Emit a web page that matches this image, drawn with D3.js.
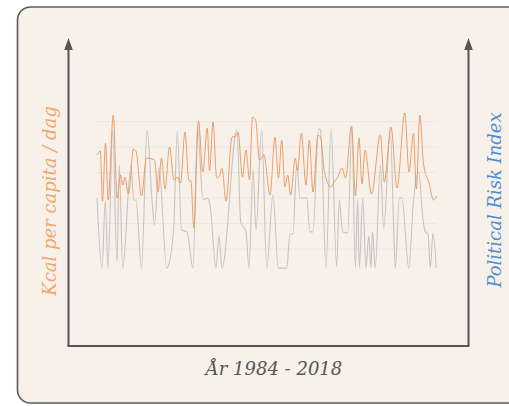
<!DOCTYPE html>
<html lang="en">

<head>
    <meta charset="UTF-8">
    <title>Kcal vs Political Risk</title>
    <style>
        body {margin: 0; background: #ffffff;}
        svg {display: block;}
    </style>
    <script src="https://d3js.org/d3.v7.min.js"></script>
</head>

<body>

    <svg id="figure1" width="509" height="406"></svg>

    <script>
    // time axis (years)
    let years_kcal = [1984.03, 1984.33, 1984.55, 1984.85, 1985.12, 1985.62, 1986.02, 1986.35, 1986.6, 1986.78,
        1987.15, 1987.65, 1987.9, 1988.45, 1988.95, 1989.75, 1990.1, 1990.45, 1990.8, 1991.25,
        1991.7, 1992.03, 1992.35, 1992.8, 1993.18, 1993.4, 1993.68, 1994.15, 1994.58, 1995.03,
        1995.25, 1995.6, 1995.97, 1996.25, 1996.5, 1996.9, 1997.5, 1997.9, 1998.1, 1998.55,
        1998.9, 1999.25, 1999.55, 1999.87, 2000.25, 2000.7, 2001.3, 2001.8, 2002.15, 2002.47,
        2002.8, 2003.07, 2003.37, 2003.83, 2004.05, 2004.43, 2004.9, 2005.23, 2005.6, 2006.1,
        2006.35, 2006.75, 2007.4, 2007.7, 2008.07, 2008.5, 2008.85, 2009.45, 2009.85, 2010.2,
        2010.5, 2010.8, 2011.45, 2012.33, 2012.73, 2013.4, 2014, 2014.78, 2015.2, 2015.65,
        2015.93, 2016.28, 2016.65, 2017.17, 2017.67, 2017.95]
    let kcal = [2853, 2876, 2582, 2923, 2588, 3088, 2600, 2735, 2676, 2723,
        2623, 2888, 2876, 2612, 2835, 2823, 2635, 2835, 2653, 2900,
        2706, 2723, 2688, 2988, 2706, 2700, 2423, 3053, 2753, 3011,
        2759, 3047, 2717, 2729, 2776, 2582, 2958, 2964, 2988, 2723,
        2882, 2706, 3076, 3058, 2823, 2853, 2617, 2958, 2717, 2941,
        2664, 2735, 2617, 2835, 2759, 2982, 2676, 2941, 2635, 2970,
        2958, 2753, 2664, 2694, 2723, 2776, 2717, 3023, 2612, 2953,
        2682, 2882, 2623, 2970, 2694, 3017, 2659, 3100, 2753, 2982,
        2653, 3088, 2800, 2694, 2588, 2612]

    let years_risk = [1984.0, 1984.5, 1984.83, 1985.1, 1985.57, 1986.0, 1986.23, 1986.57, 1987.4, 1987.67,
        1987.9, 1988.45, 1989.02, 1989.5, 1989.75, 1990.2, 1990.97, 1991.65, 1992.03, 1992.45,
        1993.0, 1993.6, 1994.05, 1994.6, 1995.0, 1995.3, 1995.9, 1996.2, 1996.5, 1998.0,
        1998.37, 1998.9, 1999.2, 1999.6, 1999.9, 2000.47, 2000.97, 2001.6, 2002.13, 2002.97,
        2003.3, 2003.6, 2003.97, 2004.3, 2004.97, 2005.3, 2005.6, 2006.15, 2006.35, 2006.9,
        2007.4, 2007.97, 2008.23, 2008.57, 2009.07, 2009.5, 2009.83, 2010.07, 2010.23, 2010.57,
        2010.9, 2011.17, 2011.4, 2011.55, 2011.83, 2012.33, 2012.67, 2013.33, 2013.67, 2013.83,
        2014.23, 2014.5, 2015.17, 2015.67, 2016.17, 2016.6, 2016.83, 2017.1, 2017.33, 2017.6,
        2017.93]
    let risk = [40.0, 12.5, 38.8, 12.5, 66.7, 14.9, 52.9, 12.5, 52.9, 39.2,
        39.2, 12.5, 66.7, 39.2, 29.4, 51.8, 12.5, 26.7, 66.3, 27.5,
        26.7, 12.5, 67.8, 39.2, 40.0, 37.3, 12.5, 25.1, 12.5, 66.7,
        30.6, 26.7, 12.5, 51.0, 27.5, 66.7, 12.5, 41.2, 12.5, 12.5,
        25.9, 25.9, 52.9, 40.0, 40.0, 26.7, 26.7, 67.1, 66.7, 12.5,
        67.1, 13.3, 39.2, 26.7, 26.3, 68.2, 12.5, 39.2, 12.5, 40.0,
        12.5, 25.1, 12.5, 26.7, 12.5, 52.9, 28.2, 66.3, 28.2, 12.5,
        40.0, 40.0, 12.5, 40.0, 50.2, 31.4, 26.7, 25.9, 12.5, 26.3,
        12.5]

    // faint grid at these risk values
    let grid_values = [20, 30, 40, 50, 60, 70]

    let xLabel = "År 1984 - 2018"
    let yLabelLeft = "Kcal per capita / dag"
    let yLabelRight = "Political Risk Index"

    let svg = d3.select("#figure1")

    // card
    svg.append("rect")
        .attr("x", 17.5)
        .attr("y", 7)
        .attr("width", 620)
        .attr("height", 396)
        .attr("rx", 13)
        .attr("fill", "#f8f1ea")
        .attr("stroke", "#5a5a5a")
        .attr("stroke-width", 1.6)

    let x = d3.scaleLinear().domain([1984, 2018]).range([97, 437])
    let yKcal = d3.scaleLinear().domain([2000, 3500]).range([300, 45])
    let yRisk = d3.scaleLinear().domain([0, 100]).range([300, 45])

    // grid
    svg.append("g")
        .selectAll("line")
        .data(grid_values)
        .join("line")
        .attr("x1", x(1984))
        .attr("x2", x(2018))
        .attr("y1", d => yRisk(d))
        .attr("y2", d => yRisk(d))
        .attr("stroke", "#ebe4dc")
        .attr("stroke-width", 0.8)

    // lines
    let riskLine = d3.line()
        .x((d, i) => x(years_risk[i]))
        .y(d => yRisk(d))
        .curve(d3.curveMonotoneX)
    let kcalLine = d3.line()
        .x((d, i) => x(years_kcal[i]))
        .y(d => yKcal(d))
        .curve(d3.curveMonotoneX)

    svg.append("path")
        .datum(risk)
        .attr("d", riskLine)
        .attr("fill", "none")
        .attr("stroke", "#c6c3bf")
        .attr("stroke-width", 1.1)

    svg.append("path")
        .datum(kcal)
        .attr("d", kcalLine)
        .attr("fill", "none")
        .attr("stroke", "#e8955c")
        .attr("stroke-width", 1)
        .attr("stroke-opacity", 0.9)

    // axes with arrows
    let axisColor = "#555555"
    svg.append("line")
        .attr("x1", 68.5).attr("x2", 68.5)
        .attr("y1", 346).attr("y2", 48)
        .attr("stroke", axisColor).attr("stroke-width", 2)
    svg.append("line")
        .attr("x1", 468.5).attr("x2", 468.5)
        .attr("y1", 346).attr("y2", 48)
        .attr("stroke", axisColor).attr("stroke-width", 2)
    svg.append("line")
        .attr("x1", 67.5).attr("x2", 469.5)
        .attr("y1", 346).attr("y2", 346)
        .attr("stroke", axisColor).attr("stroke-width", 2)

    svg.selectAll(".arrow")
        .data([68.5, 468.5])
        .join("path")
        .attr("class", "arrow")
        .attr("d", d => `M${d},38 L${d - 4.3},50 L${d + 4.3},50 Z`)
        .attr("fill", axisColor)

    // labels
    svg.append("text")
        .attr("x", 274)
        .attr("y", 375)
        .attr("text-anchor", "middle")
        .attr("font-family", "DejaVu Serif")
        .attr("font-style", "italic")
        .attr("font-size", 18)
        .attr("fill", "#555555")
        .text(xLabel)

    svg.append("text")
        .attr("transform", "translate(56,201) rotate(-90)")
        .attr("text-anchor", "middle")
        .attr("font-family", "DejaVu Serif")
        .attr("font-style", "italic")
        .attr("font-size", 18)
        .attr("fill", "#f2a66a")
        .text(yLabelLeft)

    svg.append("text")
        .attr("transform", "translate(501,200) rotate(-90)")
        .attr("text-anchor", "middle")
        .attr("font-family", "DejaVu Serif")
        .attr("font-style", "italic")
        .attr("font-size", 18)
        .attr("fill", "#4a8fd6")
        .text(yLabelRight)
    </script>
</body>

</html>
